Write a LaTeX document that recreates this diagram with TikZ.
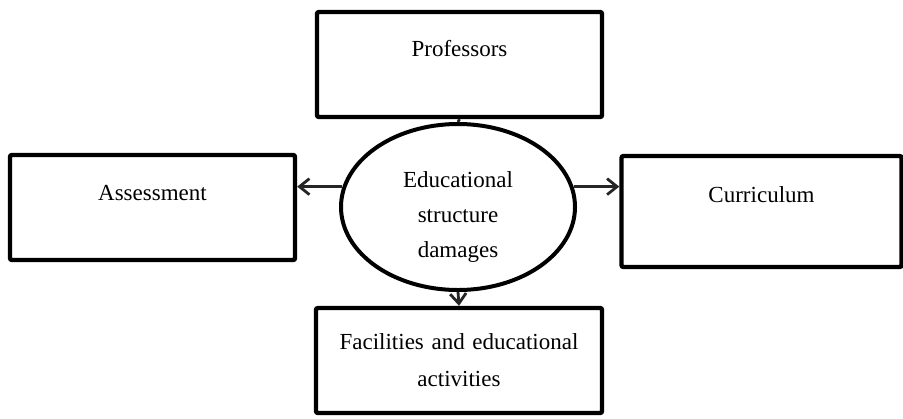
\documentclass[tikz,border=0pt]{standalone}
\usepackage{fontspec}
\setmainfont{Liberation Serif}
\usetikzlibrary{arrows.meta,shapes.geometric}
\begin{document}
\begin{tikzpicture}
[
 x=0.5pt, y=-0.5pt,
 every node/.style={font=\fontsize{11.5}{16.5}\selectfont},
 BOX/.style={rectangle, draw=black, line width=2.2pt, rounded corners=1pt, inner xsep=0pt, inner ysep=0pt, text width=#1, align=center},
 BOX/.default=140pt,
 OVAL/.style={ellipse, draw=black, line width=2pt, inner sep=0pt, minimum width=117pt, minimum height=83pt, align=center},
 LINK/.style={draw=black!85, line width=1.4pt},
 ARR/.style={LINK, -{Straight Barb[length=5pt, width=8pt, line width=1.4pt]}},
 ]
\useasboundingbox (0,0) rectangle (903,418);
%
\node [BOX=142.5pt, text height=22pt, text depth=30.5pt]  (PROF)   at (459.5, 64.5)  {Professors};
\node [BOX=142.5pt, text height=22.5pt, text depth=30pt]  (ASSESS) at (152.5,207.5)  {Assessment};
\node [BOX=140pt, text height=23pt, text depth=32.5pt]    (CURR)   at (761.5,211.5)  {Curriculum};
\node [BOX=143pt, minimum height=52.5pt, font=\fontsize{11.5}{18.5}\selectfont]  (FAC) at (459,360.5) {Facilities and educational\\activities};
%
\node [OVAL, text height=50pt, text depth=0pt, font=\fontsize{11.5}{17.3}\selectfont]  (DAMAGE)  at (458,207)  {Educational\\structure\\damages};
%
\draw [LINK]  (PROF.south) -- (DAMAGE.north) ;
\draw [ARR]   (DAMAGE.170) -- (ASSESS.east |- DAMAGE.170) ;
\draw [ARR]   (DAMAGE.10)  -- (CURR.west |- DAMAGE.10) ;
\draw [ARR]   (DAMAGE.south) -- (FAC.north) ;
%
\end{tikzpicture}
\end{document}
